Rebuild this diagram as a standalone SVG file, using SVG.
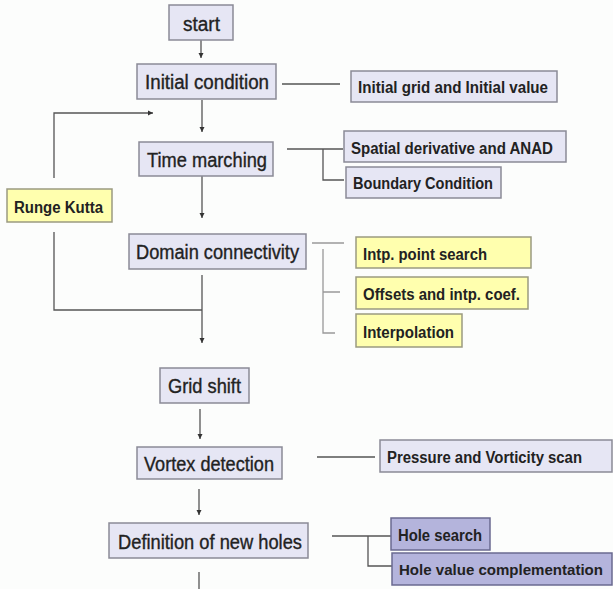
<svg xmlns="http://www.w3.org/2000/svg" width="613" height="589" viewBox="0 0 613 589">
<defs>
<style>
.m rect{fill:#e6e6f4;stroke:#8a8a96;stroke-width:1.5}
.s rect{fill:#e6e6f4;stroke:#8a8a96;stroke-width:1.5}
.y rect{fill:#ffffae;stroke:#9a9a80;stroke-width:1.5}
.h rect{fill:#b4b4dc;stroke:#6a6a90;stroke-width:1.5}
.m text{font-family:"Liberation Sans",Arial,sans-serif;font-size:20px;fill:#222;stroke:#222;stroke-width:0.35}
.s text,.y text,.h text{font-family:"Liberation Sans",Arial,sans-serif;font-size:16px;font-weight:bold;fill:#222}
.c path{fill:none;stroke:#555;stroke-width:1.3}
.c .g{stroke:#999}
</style>
<marker id="a" markerWidth="6" markerHeight="6" refX="5" refY="3" orient="auto" markerUnits="userSpaceOnUse"><path d="M0,0.5 L5,3 L0,5.5z" fill="#333"/></marker>
</defs>
<rect width="613" height="589" fill="#fcfdfc"/>
<g class="c" id="connectors">
<path d="M201,40 V58" marker-end="url(#a)"/>
<path d="M202,100 V132" marker-end="url(#a)"/>
<path d="M54,178 V113 H153" marker-end="url(#a)"/>
<path d="M202,176 V218" marker-end="url(#a)"/>
<path d="M54,232 V310 H202"/>
<path d="M202,275 V343" marker-end="url(#a)"/>
<path d="M200,409 V439" marker-end="url(#a)"/>
<path d="M199,489 V515" marker-end="url(#a)"/>
<path d="M199,572 V589"/>
<path d="M282,84 H340"/>
<path d="M287,149 H343 M323,149 V180 H344"/>
<path class="g" d="M312,243 H344 M323,249 V333 H335 M323,292 H340"/>
<path d="M317,457 H375"/>
<path d="M332,536 H391 M368,536 V566 H392"/>
</g>
<g class="m" id="start"><rect x="169" y="5" width="64" height="35"/><text x="183" y="31" textLength="37" lengthAdjust="spacingAndGlyphs">start</text></g>
<g class="m" id="initial"><rect x="137" y="64" width="139" height="35"/><text x="145" y="89" textLength="124" lengthAdjust="spacingAndGlyphs">Initial condition</text></g>
<g class="m" id="time"><rect x="139" y="142" width="134" height="34"/><text x="147" y="167" textLength="120" lengthAdjust="spacingAndGlyphs">Time marching</text></g>
<g class="m" id="domain"><rect x="129" y="234" width="177" height="35"/><text x="136" y="259" textLength="163" lengthAdjust="spacingAndGlyphs">Domain connectivity</text></g>
<g class="m" id="gridshift"><rect x="160" y="368" width="89" height="35"/><text x="168" y="393" textLength="73" lengthAdjust="spacingAndGlyphs">Grid shift</text></g>
<g class="m" id="vortex"><rect x="137" y="447" width="145" height="32"/><text x="144" y="471" textLength="130" lengthAdjust="spacingAndGlyphs">Vortex detection</text></g>
<g class="m" id="holes"><rect x="109" y="523" width="199" height="35"/><text x="118" y="549" textLength="184" lengthAdjust="spacingAndGlyphs">Definition of new holes</text></g>
<g class="y" id="rk"><rect x="7" y="189" width="105" height="33"/><text x="14" y="213" textLength="89" lengthAdjust="spacingAndGlyphs">Runge Kutta</text></g>
<g class="s" id="initgrid"><rect x="351" y="71" width="206" height="31"/><text x="358" y="93" textLength="190" lengthAdjust="spacingAndGlyphs">Initial grid and Initial value</text></g>
<g class="s" id="spatial"><rect x="344" y="131" width="222" height="31"/><text x="351" y="154" textLength="202" lengthAdjust="spacingAndGlyphs">Spatial derivative and ANAD</text></g>
<g class="s" id="boundary"><rect x="346" y="167" width="155" height="31"/><text x="353" y="189" textLength="140" lengthAdjust="spacingAndGlyphs">Boundary Condition</text></g>
<g class="y" id="intp"><rect x="356" y="237" width="175" height="31"/><text x="363" y="260" textLength="124" lengthAdjust="spacingAndGlyphs">Intp. point search</text></g>
<g class="y" id="offsets"><rect x="356" y="277" width="172" height="32"/><text x="363" y="300" textLength="157" lengthAdjust="spacingAndGlyphs">Offsets and intp. coef.</text></g>
<g class="y" id="interp"><rect x="356" y="314" width="106" height="33"/><text x="363" y="338" textLength="91" lengthAdjust="spacingAndGlyphs">Interpolation</text></g>
<g class="s" id="pressure"><rect x="380" y="440" width="232" height="32"/><text x="387" y="463" textLength="195" lengthAdjust="spacingAndGlyphs">Pressure and Vorticity scan</text></g>
<g class="h" id="holesearch"><rect x="391" y="518" width="99" height="32"/><text x="398" y="541" textLength="84" lengthAdjust="spacingAndGlyphs">Hole search</text></g>
<g class="h" id="holevalue"><rect x="392" y="553" width="220" height="32"/><text x="399" y="575" style="font-size:15px" textLength="204" lengthAdjust="spacingAndGlyphs">Hole value complementation</text></g>
</svg>
